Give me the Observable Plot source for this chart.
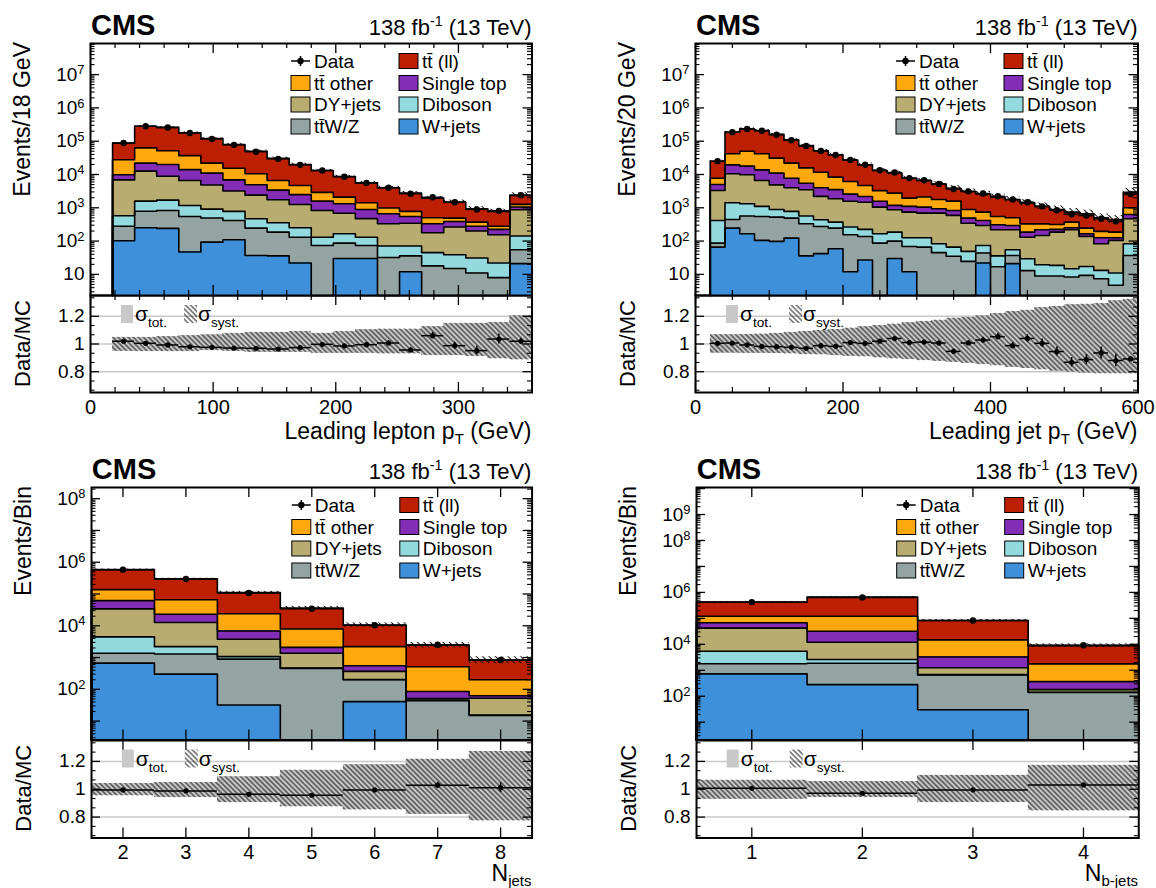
<!DOCTYPE html>
<html><head><meta charset="utf-8">
<script src="https://cdn.jsdelivr.net/npm/d3@7"></script>
<script src="https://cdn.jsdelivr.net/npm/@observablehq/plot@0.6"></script>
<style>
body{margin:0;background:#fff;}
#root{position:relative;width:1156px;height:888px;overflow:hidden;background:#fff;}
#root svg{position:absolute;}
</style></head><body>
<svg width="0" height="0" style="position:absolute;left:0;top:0">
<defs>
<pattern id="hatchR" patternUnits="userSpaceOnUse" width="3.6" height="3.6" patternTransform="rotate(-45)"><line x1="1.8" y1="0" x2="1.8" y2="3.6" stroke="#000" stroke-width="0.9"/></pattern>
<pattern id="hatchM" patternUnits="userSpaceOnUse" width="4.5" height="4.5" patternTransform="rotate(-45)"><line x1="2.2" y1="0" x2="2.2" y2="4.5" stroke="#000" stroke-width="1"/></pattern>
</defs></svg>
<div id="root"></div>
<script>
// ---------------- categories ----------------
const processKeys = ["ttll","ttother","singletop","dy","diboson","ttv","wjets"];
const processLabels = ["tt\u0304 (ll)","tt\u0304 other","Single top","DY+jets","Diboson","tt\u0304W/Z","W+jets"];
const processColors = ["#bd1f01","#ffa90e","#832db6","#b9ac70","#92dadd","#94a4a2","#3f90da"];
const stackOrder = ["wjets","ttv","diboson","dy","singletop","ttother","ttll"];

// ---------------- Leading lepton pT ----------------
const lepEdges = [18,36,54,72,90,108,126,144,162,180,198,216,234,252,270,288,306,324,342,360];
const lepTtll = [59000,217000,208000,143000,98000,64500,39500,24000,15300,10300,6600,4200,3000,2000,1450,990,570,500,1090];
const lepTtOther = [18000,41000,32000,23000,11000,8600,5600,3200,2200,1320,780,520,320,230,170,100,90,55,210];
const lepSingleTop = [2900,9400,11000,7400,6200,3700,2500,1660,1240,750,630,420,330,205,152,125,80,70,180];
const lepDY = [6300,11000,7200,5400,3900,2400,1930,1380,1000,700,520,340,260,274,133,225,169,133,730];
const lepDiboson = [295,790,870,630,420,365,225,170,120,57,79,57,39,35,27,24,20,14,87];
const lepTtV = [178,540,590,500,400,305,208,150,109,74,57,44,32,24,18,15,11,8,34];
const lepWjets = [102,251,240,47,93,110,37,36,22,0,30,30,0,12,0,0,0,0,21];
const lepData = [88510,281400,258100,176400,117100,77660,48450,29490,19470,13170,8574,5583,4009,2660,2067,1461,895,808,2399];
const lepSystUp = [1.048,1.048,1.053,1.06,1.065,1.077,1.084,1.084,1.091,1.077,1.091,1.103,1.108,1.108,1.125,1.149,1.149,1.156,1.204];
const lepSystDown = [0.947,0.945,0.945,0.945,0.952,0.947,0.94,0.94,0.94,0.933,0.933,0.933,0.928,0.928,0.916,0.916,0.909,0.892,0.885];

// ---------------- Leading jet pT ----------------
const jetEdges = [20,40,60,80,100,120,140,160,180,200,220,240,260,280,300,320,340,360,380,400,420,440,460,480,500,520,540,560,580,600];
const jetTtll = [17300,144000,185000,168000,129000,88000,58000,40000,31000,21000,14800,9900,8300,5750,4500,3400,2300,2200,1860,1550,1280,1080,770,574,370,415,305,259,1900];
const jetTtOther = [2700,22500,32000,28000,20000,14300,10300,7700,4800,3600,2500,1700,1570,850,1050,840,750,400,325,240,205,144,110,91,119,79,69,60,370];
const jetSingleTop = [1700,9000,8000,7200,6100,3700,2000,1800,1640,1000,720,530,310,360,360,250,240,145,120,90,75,55,72,39,31,28,43,21,160];
const jetDY = [2900,9100,8500,5500,4000,3200,2900,1770,1500,1300,1250,880,684,614,564,607,524,296,221,184,165,101,128,167,205,121,70,94,387];
const jetDiboson = [328,965,755,550,365,290,235,160,125,110,87,79,86,57,60,38,31,24.5,30,19,18,16.5,10.6,9.7,6.5,8,5.8,6.3,46];
const jetTtV = [21,200,400,445,427,367,294,233,186,143,110,87,70,57,66,45,35,24.5,22,17,16,13,8.9,8.9,8.3,9.3,7.4,4.7,37];
const jetWjets = [66,245,166,105,98,123,36,42,59,12,27,0,30,12,0,0,0,0,22,0,21,0,0,0,0,0,0,0,0];
const jetData = [25140,187300,233200,206200,156950,107340,71480,51080,38640,27440,19590,13440,11490,7780,6690,5216,3674,3112,2675,2211,1759,1466,1105,841,642,586,468,392,2587];
const jetSystUp = [1.067,1.067,1.069,1.072,1.077,1.084,1.091,1.098,1.105,1.115,1.125,1.134,1.144,1.153,1.163,1.172,1.187,1.192,1.204,1.22,1.235,1.244,1.263,1.271,1.283,1.287,1.292,1.311,1.323];
const jetSystDown = [0.935,0.935,0.933,0.933,0.931,0.928,0.923,0.921,0.916,0.911,0.907,0.899,0.892,0.887,0.88,0.875,0.868,0.861,0.851,0.842,0.832,0.823,0.813,0.804,0.796,0.789,0.784,0.784,0.784];

// ---------------- N jets ----------------
const njEdges = [1.5,2.5,3.5,4.5,5.5,6.5,7.5,8.5];
const njTtll = [450000,234000,88000,28000,8300,1940,630];
const njTtOther = [75000,43000,17000,5800,1650,430,138];
const njSingleTop = [28000,10300,3100,730,185,34,10];
const njDY = [29500,10500,2700,900,165,6,37];
const njDiboson = [3100,910,180,10,3,1,0.5];
const njTtV = [705,990,860,455,159,44,15];
const njWjets = [665,300,32,0,41,0,0];
const njData = [584000,296400,107800,34350,10450,2526,840];
const njSystUp = [1.041,1.048,1.089,1.137,1.175,1.216,1.271];
const njSystDown = [0.952,0.94,0.904,0.873,0.851,0.82,0.772];

// ---------------- N b jets ----------------
const nbEdges = [0.5,1.5,2.5,3.5,4.5];
const nbTtll = [300000,540000,68000,7100];
const nbTtOther = [52000,88000,11600,1400];
const nbSingleTop = [26000,20000,2000,187];
const nbDY = [36600,9400,570,36];
const nbDiboson = [3600,740,20,3];
const nbTtV = [1050,1580,630,140];
const nbWjets = [725,280,30,0];
const nbData = [422900,640900,82440,9141];
const nbSystUp = [1.065,1.055,1.10,1.172];
const nbSystDown = [0.928,0.94,0.904,0.844];

// ---------------- panel setup ----------------
const FONT = '"Liberation Sans", Arial, Helvetica, sans-serif';
const colorOf = Object.fromEntries(processKeys.map((k,i)=>[k,processColors[i]]));
const panels = [
 {proc:{ttll:lepTtll,ttother:lepTtOther,singletop:lepSingleTop,dy:lepDY,diboson:lepDiboson,ttv:lepTtV,wjets:lepWjets},
  edges:lepEdges,data:lepData,up:lepSystUp,dn:lepSystDown,
  x0:90,x1:531.5,yTop:43,yMid:295,yBot:392,xDomain:[0,360],yDomain:[2.32,8.6e7],
  xMajor:[0,100,200,300],xMinor:d3.range(20,360,20).filter(v=>v%100),yLabels:[10,1e2,1e3,1e4,1e5,1e6,1e7],
  yTitle:"Events/18 GeV",xTitle:["Leading lepton p",["sub","T"]," (GeV)"],xTitleDy:47},
 {proc:{ttll:jetTtll,ttother:jetTtOther,singletop:jetSingleTop,dy:jetDY,diboson:jetDiboson,ttv:jetTtV,wjets:jetWjets},
  edges:jetEdges,data:jetData,up:jetSystUp,dn:jetSystDown,
  x0:695,x1:1137.5,yTop:43,yMid:295,yBot:392,xDomain:[0,600],yDomain:[2.32,8.6e7],
  xMajor:[0,200,400,600],xMinor:d3.range(50,600,50).filter(v=>v%200),yLabels:[10,1e2,1e3,1e4,1e5,1e6,1e7],
  yTitle:"Events/20 GeV",xTitle:["Leading jet p",["sub","T"]," (GeV)"],xTitleDy:47},
 {proc:{ttll:njTtll,ttother:njTtOther,singletop:njSingleTop,dy:njDY,diboson:njDiboson,ttv:njTtV,wjets:njWjets},
  edges:njEdges,data:njData,up:njSystUp,dn:njSystDown,
  x0:90.8,x1:531.4,yTop:487,yMid:739.5,yBot:837,xDomain:[1.5,8.5],yDomain:[2.54,2.25e8],
  xMajor:[2,3,4,5,6,7,8],xMinor:[],yLabels:[1e2,1e4,1e6,1e8],
  yTitle:"Events/Bin",xTitle:["N",["sub","jets"]],xTitleDy:44},
 {proc:{ttll:nbTtll,ttother:nbTtOther,singletop:nbSingleTop,dy:nbDY,diboson:nbDiboson,ttv:nbTtV,wjets:nbWjets},
  edges:nbEdges,data:nbData,up:nbSystUp,dn:nbSystDown,
  x0:695.7,x1:1138,yTop:487,yMid:739.5,yBot:837,xDomain:[0.5,4.5],yDomain:[2.06,1.1e10],
  xMajor:[1,2,3,4],xMinor:[],yLabels:[1e2,1e4,1e6,1e8,1e9],
  yTitle:"Events/Bin",xTitle:["N",["sub","b-jets"]],xTitleDy:44}
];

const root = document.getElementById("root");
function place(svg, left, top){ svg.style.left = left+"px"; svg.style.top = top+"px"; root.appendChild(svg); }
function logTicks(dom){
  const lo=Math.floor(Math.log10(dom[0])), hi=Math.ceil(Math.log10(dom[1]));
  const major=[], minor=[];
  for(let e=lo;e<=hi;e++){const b=Math.pow(10,e); if(b>=dom[0]&&b<=dom[1]) major.push(b);
    for(let m=2;m<=9;m++){const v=m*b; if(v>=dom[0]&&v<=dom[1]) minor.push(v);} }
  return {major,minor};
}
function supLabels(svg){
  d3.select(svg).selectAll("text").each(function(){
    const t=this.textContent; if(t.includes("^")){const [b,e]=t.split("^"); const s=d3.select(this); s.text(b);
      s.append("tspan").attr("dy","-0.5em").attr("font-size","0.68em").text(e);}
  });
}
const plotStyle = {fontFamily:FONT, fontSize:"20px", background:"transparent", overflow:"visible", color:"#000"};

function buildBins(p){
  const n=p.edges.length-1, FLOOR=p.yDomain[0]/10;
  return d3.range(n).map(i=>{
    const b={lo:p.edges[i],hi:p.edges[i+1]}; b.c=(b.lo+b.hi)/2;
    let cum=0; b.L={};
    stackOrder.forEach(k=>{const v=p.proc[k][i]; const y1=cum; cum+=v;
      b.L[k]={key:k,lo:b.lo,hi:b.hi,v,y1:Math.max(y1,FLOOR),y2:Math.max(cum,FLOOR)};});
    b.total=cum; b.data=p.data[i]; b.err=Math.sqrt(p.data[i]); b.up=p.up[i]; b.dn=p.dn[i];
    b.ratio=b.data/b.total; b.rerr=b.err/b.total;
    return b;
  });
}

function mainPlot(p, bins){
  const W=p.x1-p.x0, H=p.yMid-p.yTop, ML=90, MR=30, MT=10, MB=2;
  const FLOOR=p.yDomain[0]/10, n=bins.length;
  const steps = stackOrder.flatMap(k=>{
    const pts=[{k,x:p.edges[0],y:FLOOR}];
    bins.forEach(b=>{pts.push({k,x:b.lo,y:b.L[k].y2},{k,x:b.hi,y:b.L[k].y2});});
    pts.push({k,x:p.edges[n],y:FLOOR}); return pts;
  });
  const yt=logTicks(p.yDomain);
  const marks=[];
  stackOrder.forEach(k=>marks.push(Plot.rect(bins.map(b=>b.L[k]).filter(l=>l.v>0),{x1:"lo",x2:"hi",y1:"y1",y2:"y2",fill:colorOf[k],shapeRendering:"crispEdges"})));
  marks.push(Plot.line(steps,{x:"x",y:"y",z:"k",stroke:"#000",strokeWidth:1.6}));
  marks.push(Plot.rect(bins,{x1:"lo",x2:"hi",y1:b=>b.total*b.dn,y2:b=>b.total*b.up,fill:"url(#hatchM)"}));
  marks.push(Plot.ruleY(bins,{y:"data",x1:"lo",x2:"hi",stroke:"#000",strokeWidth:1.5}));
  marks.push(Plot.ruleX(bins,{x:"c",y1:b=>b.data-b.err,y2:b=>b.data+b.err,stroke:"#000",strokeWidth:1.5}));
  marks.push(Plot.dot(bins,{x:"c",y:"data",r:3.2,fill:"#000",stroke:null}));
  marks.push(Plot.tickX(p.xMajor,{x:d=>d,insetTop:H-10,strokeWidth:1.3}));
  marks.push(Plot.tickX(p.xMajor,{x:d=>d,insetBottom:H-10,strokeWidth:1.3}));
  marks.push(Plot.tickX(p.xMinor,{x:d=>d,insetTop:H-5,strokeWidth:1.2}));
  marks.push(Plot.tickX(p.xMinor,{x:d=>d,insetBottom:H-5,strokeWidth:1.2}));
  marks.push(Plot.tickY(yt.major,{y:d=>d,insetRight:W-9,strokeWidth:1.3}));
  marks.push(Plot.tickY(yt.major,{y:d=>d,insetLeft:W-9,strokeWidth:1.3}));
  marks.push(Plot.tickY(yt.minor,{y:d=>d,insetRight:W-4.5,strokeWidth:1.1}));
  marks.push(Plot.tickY(yt.minor,{y:d=>d,insetLeft:W-4.5,strokeWidth:1.1}));
  marks.push(Plot.axisY({ticks:p.yLabels,anchor:"left",tickSize:0,tickPadding:6,fontSize:19,
    tickFormat:d=>{const e=Math.round(Math.log10(d)); return e===1?"10":"10^"+e;}}));
  marks.push(Plot.frame({stroke:"#000",strokeWidth:2}));
  const svg=Plot.plot({width:W+ML+MR,height:H+MT+MB,marginLeft:ML,marginRight:MR,marginTop:MT,marginBottom:MB,
    x:{domain:p.xDomain,axis:null},y:{type:"log",domain:p.yDomain,clamp:true},style:plotStyle,marks});
  supLabels(svg);
  place(svg,p.x0-ML,p.yTop-MT);
}

function ratioPlot(p, bins){
  const W=p.x1-p.x0, H=p.yBot-p.yMid, ML=90, MR=30, MT=2, MB=50;
  const rMajor=[0.8,1,1.2], rMinor=[2/3,0.7333,0.8667,0.9333,1.0667,1.1333,1.2667,1.3333];
  const marks=[
    Plot.ruleY(rMajor,{y:d=>d,stroke:"#c8c8c8",strokeWidth:1.5}),
    Plot.rect(bins,{x1:"lo",x2:"hi",y1:"dn",y2:"up",fill:"#c8c8c8",shapeRendering:"crispEdges"}),
    Plot.rect(bins,{x1:"lo",x2:"hi",y1:"dn",y2:"up",fill:"url(#hatchR)"}),
    Plot.ruleY(bins,{y:"ratio",x1:"lo",x2:"hi",stroke:"#000",strokeWidth:1.5}),
    Plot.ruleX(bins,{x:"c",y1:b=>b.ratio-b.rerr,y2:b=>b.ratio+b.rerr,stroke:"#000",strokeWidth:1.5}),
    Plot.dot(bins,{x:"c",y:"ratio",r:2.6,fill:"#000",stroke:null}),
    Plot.tickX(p.xMajor,{x:d=>d,insetTop:H-10,strokeWidth:1.3}),
    Plot.tickX(p.xMajor,{x:d=>d,insetBottom:H-10,strokeWidth:1.3}),
    Plot.tickX(p.xMinor,{x:d=>d,insetTop:H-5,strokeWidth:1.2}),
    Plot.tickX(p.xMinor,{x:d=>d,insetBottom:H-5,strokeWidth:1.2}),
    Plot.tickY(rMajor,{y:d=>d,insetRight:W-9,strokeWidth:1.3}),
    Plot.tickY(rMajor,{y:d=>d,insetLeft:W-9,strokeWidth:1.3}),
    Plot.tickY(rMinor,{y:d=>d,insetRight:W-4.5,strokeWidth:1.1}),
    Plot.tickY(rMinor,{y:d=>d,insetLeft:W-4.5,strokeWidth:1.1}),
    Plot.axisY({ticks:rMajor,anchor:"left",tickSize:0,tickPadding:6,fontSize:19,tickFormat:d=>d===1?"1":String(d)}),
    Plot.axisX({ticks:p.xMajor,anchor:"bottom",tickSize:0,tickPadding:7,fontSize:20,tickFormat:d=>String(d)}),
    Plot.frame({stroke:"#000",strokeWidth:2})
  ];
  const svg=Plot.plot({width:W+ML+MR,height:H+MT+MB,marginLeft:ML,marginRight:MR,marginTop:MT,marginBottom:MB,
    x:{domain:p.xDomain},y:{domain:[0.65,1.35]},style:plotStyle,marks});
  place(svg,p.x0-ML,p.yMid-MT);
}

const allBins = panels.map(p=>buildBins(p));
panels.forEach((p,i)=>{ ratioPlot(p,allBins[i]); mainPlot(p,allBins[i]); });

// ---------------- text overlay ----------------
const ov = d3.select(root).append("svg").attr("width",1156).attr("height",888)
  .style("left","0px").style("top","0px").style("font-family",FONT).style("pointer-events","none");
function rich(x,y,parts,o={}){
  const s=o.size||20;
  const t=ov.append("text").attr("x",x).attr("y",y).attr("font-size",s).attr("text-anchor",o.anchor||"start")
    .attr("font-weight",o.weight||"normal").attr("fill","#000");
  if(o.rotate) t.attr("transform",`rotate(-90 ${x} ${y})`);
  let cur=0;
  parts.forEach(pt=>{
    const [kind,str]= typeof pt==="string" ? ["n",pt] : pt;
    const target = kind==="sup" ? -0.42*s : kind==="sub" ? (o.subShift||0.3)*s : 0;
    t.append("tspan").attr("dy",target-cur).attr("font-size",kind==="n"?s:0.65*s).text(str);
    cur=target;
  });
  return t;
}
panels.forEach(p=>{
  rich(p.x0+1,p.yTop-8,["CMS"],{size:29,weight:"bold"});
  rich(p.x1,p.yTop-8,["138 fb",["sup","-1"]," (13 TeV)"],{size:22,anchor:"end"});
  rich(p.x0-60,p.yTop-1,[p.yTitle],{size:23,anchor:"end",rotate:true});
  rich(p.x0-60,(p.yMid+p.yBot)/2,["Data/MC"],{size:22,anchor:"middle",rotate:true});
  rich(p.x1,p.yBot+p.xTitleDy,p.xTitle,{size:23,anchor:"end",subShift:0.22});
  // main legend
  const rows=[18,40,61.5,83.5].map(d=>p.yTop+d);
  const cols=[p.x0+201,p.x0+309], bw=19, bh=15;
  const dx=cols[0], dy=rows[0];
  ov.append("line").attr("x1",dx).attr("x2",dx+bw).attr("y1",dy).attr("y2",dy).attr("stroke","#000").attr("stroke-width",1.5);
  ov.append("line").attr("x1",dx+bw/2).attr("x2",dx+bw/2).attr("y1",dy-5).attr("y2",dy+5).attr("stroke","#000").attr("stroke-width",1.5);
  ov.append("circle").attr("cx",dx+bw/2).attr("cy",dy).attr("r",3.2).attr("fill","#000");
  rich(dx+bw+4,dy+6.8,["Data"],{size:19});
  const slots=[[0,1],[1,0],[1,1],[2,0],[2,1],[3,0],[3,1]];
  processKeys.forEach((k,i)=>{
    const [r,c]=slots[i]; const x=cols[c], y=rows[r];
    ov.append("rect").attr("x",x).attr("y",y-bh/2).attr("width",bw).attr("height",bh).attr("fill",processColors[i]).attr("stroke","#000").attr("stroke-width",1);
    rich(x+bw+4,y+6.8,[processLabels[i]],{size:19});
  });
  // ratio legend
  const ry=p.yMid+10;
  ov.append("rect").attr("x",p.x0+31).attr("y",ry).attr("width",12).attr("height",18).attr("fill","#c8c8c8");
  rich(p.x0+45,ry+16,["\u03c3",["sub","tot."]],{size:21});
  ov.append("rect").attr("x",p.x0+94).attr("y",ry).attr("width",13).attr("height",18).attr("fill","url(#hatchR)");
  rich(p.x0+108,ry+16,["\u03c3",["sub","syst."]],{size:21});
});
</script>
</body></html>
